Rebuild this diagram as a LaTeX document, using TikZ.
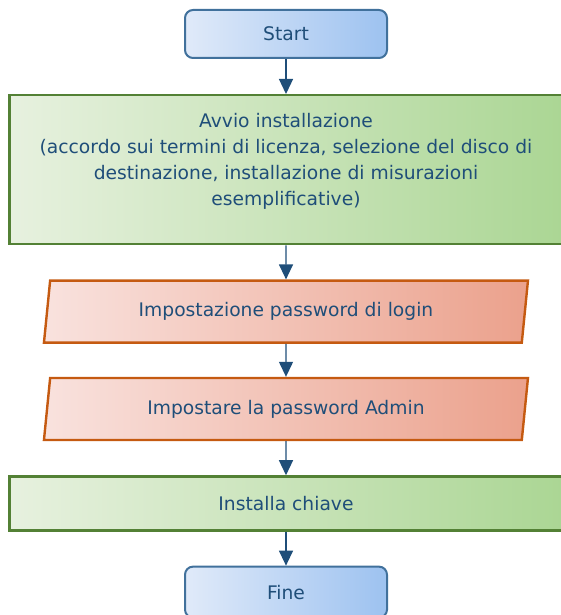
\documentclass[tikz,border=0pt]{standalone}
\usepackage{fontspec}
\setmainfont{DejaVu Sans}
\usetikzlibrary{positioning,shapes.geometric,arrows.meta}
\definecolor{textBlue}{HTML}{1F4E79}
\definecolor{termLine}{HTML}{41719C}
\definecolor{termLeft}{HTML}{E0EAF9}
\definecolor{termRight}{HTML}{9DC2F0}
\definecolor{procLine}{HTML}{538135}
\definecolor{procLeft}{HTML}{E7F1DF}
\definecolor{procRight}{HTML}{ABD694}
\definecolor{ioLine}{HTML}{C55A11}
\definecolor{ioLeft}{HTML}{F9E2DE}
\definecolor{ioRight}{HTML}{EBA18C}

\begin{document}
\begin{tikzpicture}
[x=1pt,y=1pt,node distance=34pt,
  every node/.style={font=\fontsize{18.7}{26}\selectfont,text=textBlue,align=center},
  termDecorate/.style={rectangle,rounded corners=8pt,draw=termLine,line width=2pt,
    left color=termLeft,right color=termRight,minimum width=202pt,minimum height=48pt},
  procDecorate/.style={rectangle,draw=procLine,line width=2.4pt,
    left color=procLeft,right color=procRight,minimum width=553pt},
  ioDecorate/.style={trapezium,trapezium left angle=76,trapezium right angle=104,
    trapezium stretches body,draw=ioLine,line width=2.4pt,
    left color=ioLeft,right color=ioRight,minimum width=484pt,minimum height=62pt},
  lineDecorate/.style={-{Triangle[length=15pt,width=14pt]},draw=textBlue,line width=1.3pt}]
\useasboundingbox (0,0) rectangle (561,-615);
%% nodes
\node (start) at (286,-34) [termDecorate] {Start};
\node (avvio) [procDecorate,minimum height=149pt,below=35pt of start]
  {Avvio installazione\\(accordo sui termini di licenza, selezione del disco di\\
   destinazione, installazione di misurazioni\\esemplificative)\\[-6pt]\mbox{}};
\node (login) [ioDecorate,below=of avvio] {Impostazione password di login};
\node (admin) [ioDecorate,below=33pt of login] {Impostare la password Admin};
\node (chiave) [procDecorate,minimum height=54pt,below=of admin] {Installa chiave};
\node (fine) [termDecorate,minimum height=51pt,below=of chiave] {Fine};
%% edges
\foreach \startnode/\endnode in {start/avvio, avvio/login, login/admin, admin/chiave, chiave/fine}
{
  \draw[lineDecorate] (\startnode) -- (\endnode);
}
\end{tikzpicture}
\end{document}
